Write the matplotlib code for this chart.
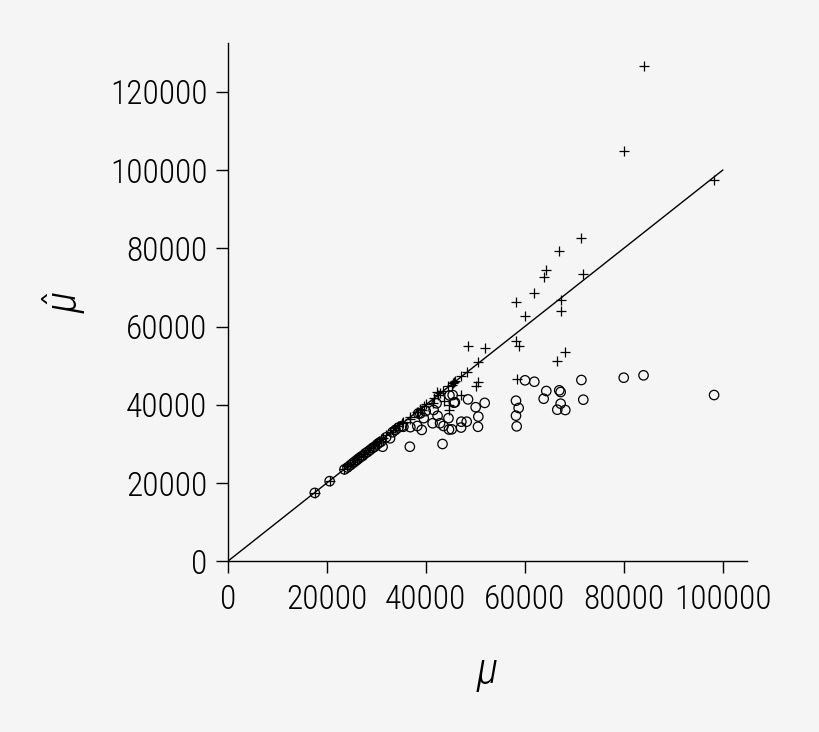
import numpy as np
import matplotlib
matplotlib.use('Agg')
import matplotlib.pyplot as plt

plt.rcParams['font.family'] = ['Roboto Condensed', 'DejaVu Sans']
plt.rcParams['font.weight'] = 300
plt.rcParams['mathtext.fontset'] = 'custom'
plt.rcParams['mathtext.it'] = 'Roboto Condensed:italic:light'
plt.rcParams['mathtext.rm'] = 'Roboto Condensed:light'

# true value, estimate shown as "+", estimate shown as "o"
mu = [17600, 20600, 23600, 24200, 24800, 25300, 25700, 26100, 26500, 26900,
      27300, 27800, 28300, 28800, 29300, 29700, 30200, 30600, 31000, 31300,
      32000, 32800, 33300, 33900, 34500,
      35200, 35500, 36800, 36900, 38300, 38500, 38900, 39200, 39600, 40000,
      41400, 41600, 42200, 42400, 42900, 43400, 43600, 44600, 44700, 44800,
      45250, 45450, 45700, 45900, 47150, 47200, 48280, 48550, 50100, 50560,
      50630, 51920,
      58240, 58240, 58380, 58780, 60060, 61940, 63830, 64360, 66580, 66980,
      67260, 67260, 68200, 71450, 71830, 80000, 84000, 98250]
mu_hat_plus = [17600, 20600, 23700, 24300, 24900, 25400, 25800, 26200, 26600, 27000,
               27400, 27900, 28400, 28900, 29400, 29900, 30300, 30800, 31200, 31500,
               32200, 33000, 33500, 34100, 34700,
               35300, 35600, 36300, 37000, 38300, 38250, 39000, 38700, 39700, 40100,
               40550, 41700, 43280, 42500, 43000, 43500, 41000, 44700, 38700, 39960,
               45000, 45500, 45760, 46000, 42400, 47300, 48300, 55000, 44900, 51000,
               45760, 54440,
               66270, 56230, 46520, 55030, 62780, 68500, 72740, 74530, 51280, 79230,
               66710, 63900, 53500, 82550, 73350, 104850, 126500, 97440]
mu_hat_circ = [17500, 20500, 23500, 24000, 24600, 25100, 25500, 25900, 26300, 26700,
               27000, 27600, 28000, 28500, 29000, 29300, 29900, 30300, 30600, 29300,
               31700, 31450, 33000, 33600, 34200,
               34600, 34400, 29300, 34300, 34600, 37800, 37800, 33600, 36600, 38400,
               35300, 38700, 40400, 37200, 35300, 30000, 34600, 36600, 33700, 42400,
               33750, 42500, 40550, 40650, 34200, 35700, 35700, 41400, 39400, 34400,
               37000, 40500,
               41060, 37230, 34510, 39190, 46270, 45910, 41570, 43540, 38760, 43710,
               43280, 40300, 38680, 46350, 41320, 46940, 47550, 42510]

bg = '#f5f5f5'
fig = plt.figure(figsize=(8.2, 7.32), dpi=100, facecolor=bg)
ax = fig.add_axes([0.2776, 0.2331, 0.6334, 0.7088], facecolor=bg)

ax.plot([0, 100000], [0, 100000], color='black', lw=1.0, zorder=1)
ax.scatter(mu, mu_hat_circ, s=46, facecolors='none', edgecolors='black',
           linewidths=0.9, zorder=2)
ax.scatter(mu, mu_hat_plus, s=48, marker='+', color='black',
           linewidths=0.9, zorder=3)

ax.set_xlim(0, 104900)
ax.set_ylim(0, 132600)
ax.set_xticks([0, 20000, 40000, 60000, 80000, 100000])
ax.set_yticks([0, 20000, 40000, 60000, 80000, 100000, 120000])
for s in ['top', 'right']:
    ax.spines[s].set_visible(False)
for s in ['left', 'bottom']:
    ax.spines[s].set_linewidth(1.0)
ax.tick_params(axis='both', direction='out', length=8.5, width=1.0,
               labelsize=24, colors='black')
ax.tick_params(axis='y', pad=6)
ax.tick_params(axis='x', pad=8)

ax.set_xlabel(r'$\mu$', fontsize=32, labelpad=26)
ax.set_ylabel(r'$\hat{\mu}$', fontsize=32, labelpad=16)

fig.savefig('out.png', dpi=100, facecolor=bg)
